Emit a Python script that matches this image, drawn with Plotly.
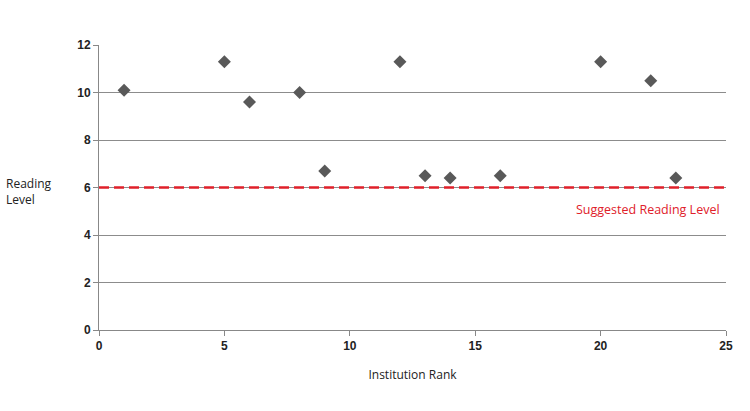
import plotly.graph_objects as go

rank = [1, 5, 6, 8, 9, 12, 13, 14, 16, 20, 22, 23]
reading_level = [10.1, 11.3, 9.6, 10.0, 6.7, 11.3, 6.5, 6.4, 6.5, 11.3, 10.5, 6.4]
suggested_level = 6
x_ticks = [0, 5, 10, 15, 20, 25]
y_ticks = [0, 2, 4, 6, 8, 10, 12]

fig = go.Figure()
fig.add_trace(go.Scatter(
    x=[0, 25], y=[suggested_level, suggested_level], mode="lines",
    line=dict(color="#e0202a", width=2.5, dash="10px,5px"), hoverinfo="skip",
    showlegend=False))
fig.add_trace(go.Scatter(
    x=rank, y=reading_level, mode="markers",
    marker=dict(symbol="diamond", size=10, color="#595959"),
    showlegend=False))

fig.add_annotation(x=21.9, y=suggested_level, yshift=-22, text="Suggested Reading Level",
                   showarrow=False, font=dict(color="#e0202a", size=12.5,
                   family="Open Sans"), xref="x", yref="y")
fig.add_annotation(x=-0.152, xref="paper", xanchor="left", y=5.85, yref="y",
                   text="Reading<br>Level", align="left", showarrow=False,
                   font=dict(size=12, color="#222", family="Open Sans"))

fig.update_layout(
    width=750, height=411,
    margin=dict(l=99, r=24, t=45, b=81),
    plot_bgcolor="white", paper_bgcolor="white",
    font=dict(family="Open Sans", color="#222"),
)
fig.update_xaxes(range=[0, 25], tickvals=x_ticks, showgrid=False,
                 showline=True, linecolor="#888", linewidth=1,
                 ticks="outside", ticklen=5, tickcolor="#888",
                 tickfont=dict(size=12, family="Liberation Sans", color="#222", weight="bold"),
                 title=dict(text="Institution Rank", font=dict(size=12), standoff=18),
                 zeroline=False)
fig.update_yaxes(range=[0, 12], tickvals=y_ticks, showgrid=True, gridcolor="#8c8c8c",
                 gridwidth=1, showline=True, linecolor="#888", linewidth=1,
                 ticks="outside", ticklen=5, tickcolor="#888",
                 tickfont=dict(size=12, family="Liberation Sans", color="#222", weight="bold"),
                 zeroline=False)

fig.write_html("out.html")
